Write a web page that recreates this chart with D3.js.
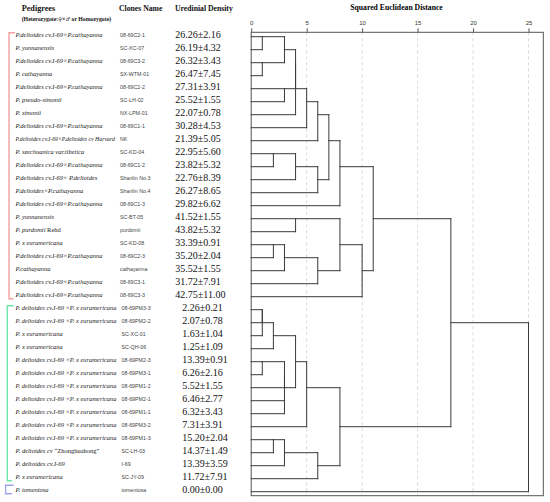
<!DOCTYPE html>
<html><head><meta charset="utf-8">
<script src="https://cdn.jsdelivr.net/npm/d3@7/dist/d3.min.js"></script>
<style>body{margin:0;background:#fff}svg{display:block}</style>
</head><body>
<svg id="c" width="550" height="502"></svg>
<script>
// ---------------- DATA ----------------
const pedigrees = [
  "P.deltoides cv.I-69×P.cathayanna","P. yunnanensis","P.deltoides cv.I-69×P.cathayanna","P. cathayanna",
  "P.deltoides cv.I-69×P.cathayanna","P. pseudo-simonii","P. simonii","P.deltoides cv.I-69×P.cathayanna",
  "P.deltoides cv.I-69×P.deltoides cv Harvard","P. szechuanica var.tibetica","P.deltoides cv.I-69×P.cathayanna",
  "P.deltoides cv.I-69× P.deltoides","P.deltoides×P.cathayanna","P.deltoides cv.I-69×P.cathayanna",
  "P. yunnanensis","P. purdomii Rehd","P. x euramericana","P.deltoides cv.I-69×P.cathayanna","P.cathayanna",
  "P.deltoides cv.I-69×P.cathayanna","P.deltoides cv.I-69×P.cathayanna",
  "P. deltoides cv.I-69 ×P. x euramericana","P. deltoides cv.I-69 ×P. x euramericana","P. x euramericana",
  "P. x euramericana","P. deltoides cv.I-69 ×P. x euramericana","P. deltoides cv.I-69 ×P. x euramericana",
  "P. deltoides cv.I-69 ×P. x euramericana","P. deltoides cv.I-69 ×P. x euramericana",
  "P. deltoides cv.I-69 ×P. x euramericana","P. deltoides cv.I-69 ×P. x euramericana",
  "P. deltoides cv.I-69 ×P. x euramericana","P. deltoides cv \u201cZhonghuahong\u201d","P. deltoides cv.I-69",
  "P. x euramericana","P. tomentosa"
];
const clones = [
  "08-69C2-1","SC-XC-07","08-69C3-2","SX-WTM-01","08-69C2-2","SC-LH-02","NX-LPM-01","08-69C1-1","NK",
  "SC-KD-04","08-69C1-2","Shanlin No.3","Shanlin No.4","08-69C1-3","SC-BT-05","purdomii","SC-KD-08",
  "08-69C2-3","cathayanna","08-69C3-1","08-69C3-3","08-69PM3-3","08-69PM2-2","SC-XC-01","SC-QH-06",
  "08-69PM2-3","08-69PM3-1","08-69PM1-2","08-69PM2-1","08-69PM1-1","08-69PM3-2","08-69PM1-3","SC-LH-03",
  "I-69","SC-JY-09","tomentosa"
];
const densityMean = [26.26,26.19,26.32,26.47,27.31,25.52,22.07,30.28,21.39,22.95,23.82,22.76,26.27,29.82,
  41.52,43.82,33.39,35.20,35.52,31.72,42.75,2.26,2.07,1.63,1.25,13.39,6.26,5.52,6.46,6.32,7.31,15.20,14.37,
  13.39,11.72,0.00];
const densitySD = [2.16,4.32,3.43,7.45,3.91,1.55,0.78,4.53,5.05,5.60,5.32,8.39,8.65,6.62,1.55,5.32,0.91,2.04,
  1.55,7.91,11.00,0.21,0.78,1.04,1.09,0.91,2.16,1.55,2.77,3.43,3.91,2.04,1.49,3.59,7.91,0.00];
const groupSizes = [21, 14, 1];
const distanceTicks = [0, 5, 10, 15, 20, 25];
// agglomeration steps: [a, b, rescaled distance]; numbers = leaf rows, "mK" = K-th step
const merges = [
  [0,1,1],[2,3,1],["m0","m1",3],[4,5,3],["m2","m3",4],["m4",6,4],["m5",7,5],["m6",8,6],
  [9,10,2],["m8",11,4],["m9",12,6],["m7","m10",7],["m11",13,8],
  [14,15,4],[16,17,2],["m14",18,3],["m15",19,6],["m13","m16",8],["m17",20,10],["m12","m18",11],
  [21,22,1],["m20",23,1],["m21",24,2],[25,26,1],["m23",27,3],[28,29,3],["m24","m25",3],
  ["m22","m26",4],["m27",30,5],[31,32,2],["m29",33,3],["m30",34,6],["m28","m31",8],
  ["m19","m32",18],["m33",35,25]
];

// ---------------- DRAW ----------------
const svg = d3.select("#c");
const n = clones.length;
const serif = "'Liberation Serif','Times New Roman',serif";
const sans = "'Liberation Sans',Arial,sans-serif";
const groupColors = ["#f2a0a0", "#72e6aa", "#a3a3f2"];

const x = d3.scaleLinear().domain([0, 25]).range([251.2, 528.5]);
const y = d3.scaleLinear().domain([0, n - 1]).range([36.7, 491.7]);
const frame = {x0: 251.2, x1: 543.3, y0: 32.3, y1: 495.7};

// gridlines
svg.append("g").selectAll("line").data(distanceTicks.filter(d => d > 0)).join("line")
  .attr("x1", d => x(d)).attr("x2", d => x(d)).attr("y1", frame.y0).attr("y2", frame.y1)
  .attr("stroke", "#cfcfcf").attr("stroke-width", 0.8).attr("stroke-dasharray", "3,3");

// frame
svg.append("rect").attr("x", frame.x0).attr("y", frame.y0)
  .attr("width", frame.x1 - frame.x0).attr("height", frame.y1 - frame.y0)
  .attr("fill", "none").attr("stroke", "#555").attr("stroke-width", 1);

// axis
const axis = d3.axisTop(x).tickValues(distanceTicks).tickSize(4).tickPadding(3).tickSizeOuter(0);
const ag = svg.append("g").attr("transform", `translate(0,${frame.y0})`).call(axis);
ag.select(".domain").remove();
ag.selectAll(".tick line").attr("stroke", "#555");
ag.selectAll(".tick text").attr("font-family", sans).attr("font-size", 6).attr("fill", "#333");

svg.append("text").attr("x", 396.5).attr("y", 10.3).attr("text-anchor", "middle")
  .attr("font-family", serif).attr("font-weight", "bold").attr("font-size", 7.7)
  .text("Squared Euclidean Distance");

// dendrogram
const nodes = {};
const getNode = k => (typeof k === "number") ? {row: k, h: 0} : nodes[k];
const segs = [];
merges.forEach((m, i) => {
  const a = getNode(m[0]), b = getNode(m[1]), h = m[2];
  segs.push([x(a.h), y(a.row), x(h), y(a.row)]);
  segs.push([x(b.h), y(b.row), x(h), y(b.row)]);
  segs.push([x(h), y(a.row), x(h), y(b.row)]);
  nodes["m" + i] = {row: Math.floor((a.row + b.row) / 2), h: h};
});
svg.append("g").selectAll("line").data(segs.filter(s => s[0] !== s[2] || s[1] !== s[3])).join("line")
  .attr("x1", d => d[0]).attr("y1", d => d[1]).attr("x2", d => d[2]).attr("y2", d => d[3])
  .attr("stroke", "#3a3a3a").attr("stroke-width", 1).attr("stroke-linecap", "square");

// table headers
const hdr = svg.append("g").attr("font-family", serif).attr("font-weight", "bold").attr("fill", "#111");
hdr.append("text").attr("x", 21.7).attr("y", 11).attr("font-size", 8.2).text("Pedigrees");
const sub = hdr.append("text").attr("x", 21.7).attr("y", 21).attr("font-size", 5.8);
sub.append("tspan").text("(Heterozygote:");
sub.append("tspan").attr("font-family", "'DejaVu Sans',sans-serif").attr("font-size", 5.2).text("\u2640");
sub.append("tspan").text("\u00d7");
sub.append("tspan").attr("font-family", "'DejaVu Sans',sans-serif").attr("font-size", 5.2).text("\u2642");
sub.append("tspan").text(" or Homozygote)");
hdr.append("text").attr("x", 119).attr("y", 11).attr("font-size", 7.7).text("Clones Name");
hdr.append("text").attr("x", 175).attr("y", 11).attr("font-size", 7.7).text("Uredinial Density");

// group of each row
const groupOf = [];
groupSizes.forEach((s, g) => { for (let k = 0; k < s; k++) groupOf.push(g); });
const cloneX = i => groupOf[i] === 0 ? 120 : 121.5;
const pedX = 15.5, pedSize = 6.5;

// rows
const rows = svg.append("g").selectAll("g").data(d3.range(n)).join("g");
rows.append("text").attr("x", pedX).attr("y", i => y(i) + 0.3)
  .attr("font-family", serif).attr("font-style", "italic").attr("font-size", pedSize).attr("fill", "#222")
  .each(function(i) {
    const t = d3.select(this), s = pedigrees[i];
    const m = s.match(/^(.*?)( Rehd| \u201c.*\u201d)$/);
    if (m) {
      t.append("tspan").text(m[1]);
      t.append("tspan").attr("font-style", "normal").text(m[2]);
    } else t.text(s);
    const maxW = cloneX(i) - pedX - 5;
    const w = this.getComputedTextLength();
    if (w > maxW) t.attr("font-size", (pedSize * maxW / w).toFixed(2));
  });
rows.append("text").attr("x", cloneX).attr("y", i => y(i) + 0.5)
  .attr("font-family", sans).attr("font-size", 5.3).attr("fill", "#444")
  .text(i => clones[i]);
rows.append("text").attr("x", i => groupOf[i] === 0 ? 175.3 : 182.3).attr("y", i => y(i) + 1.5)
  .attr("font-family", serif).attr("font-size", 10).attr("fill", "#111")
  .text(i => densityMean[i].toFixed(2) + "\u00b1" + densitySD[i].toFixed(2));

// group brackets
let start = 0;
groupSizes.forEach((s, g) => {
  const top = y(start) - (g === 2 ? 6.5 : 4), bot = y(start + s - 1) + 2;
  const bx = 9 - 1.7 * g, ex = g === 0 ? 15 : 13.5;
  svg.append("path").attr("d", `M${ex},${top}H${bx}V${bot}H${ex - 1.5}`)
    .attr("fill", "none").attr("stroke", groupColors[g]).attr("stroke-width", 1.4);
  start += s;
});
</script>
</body></html>
